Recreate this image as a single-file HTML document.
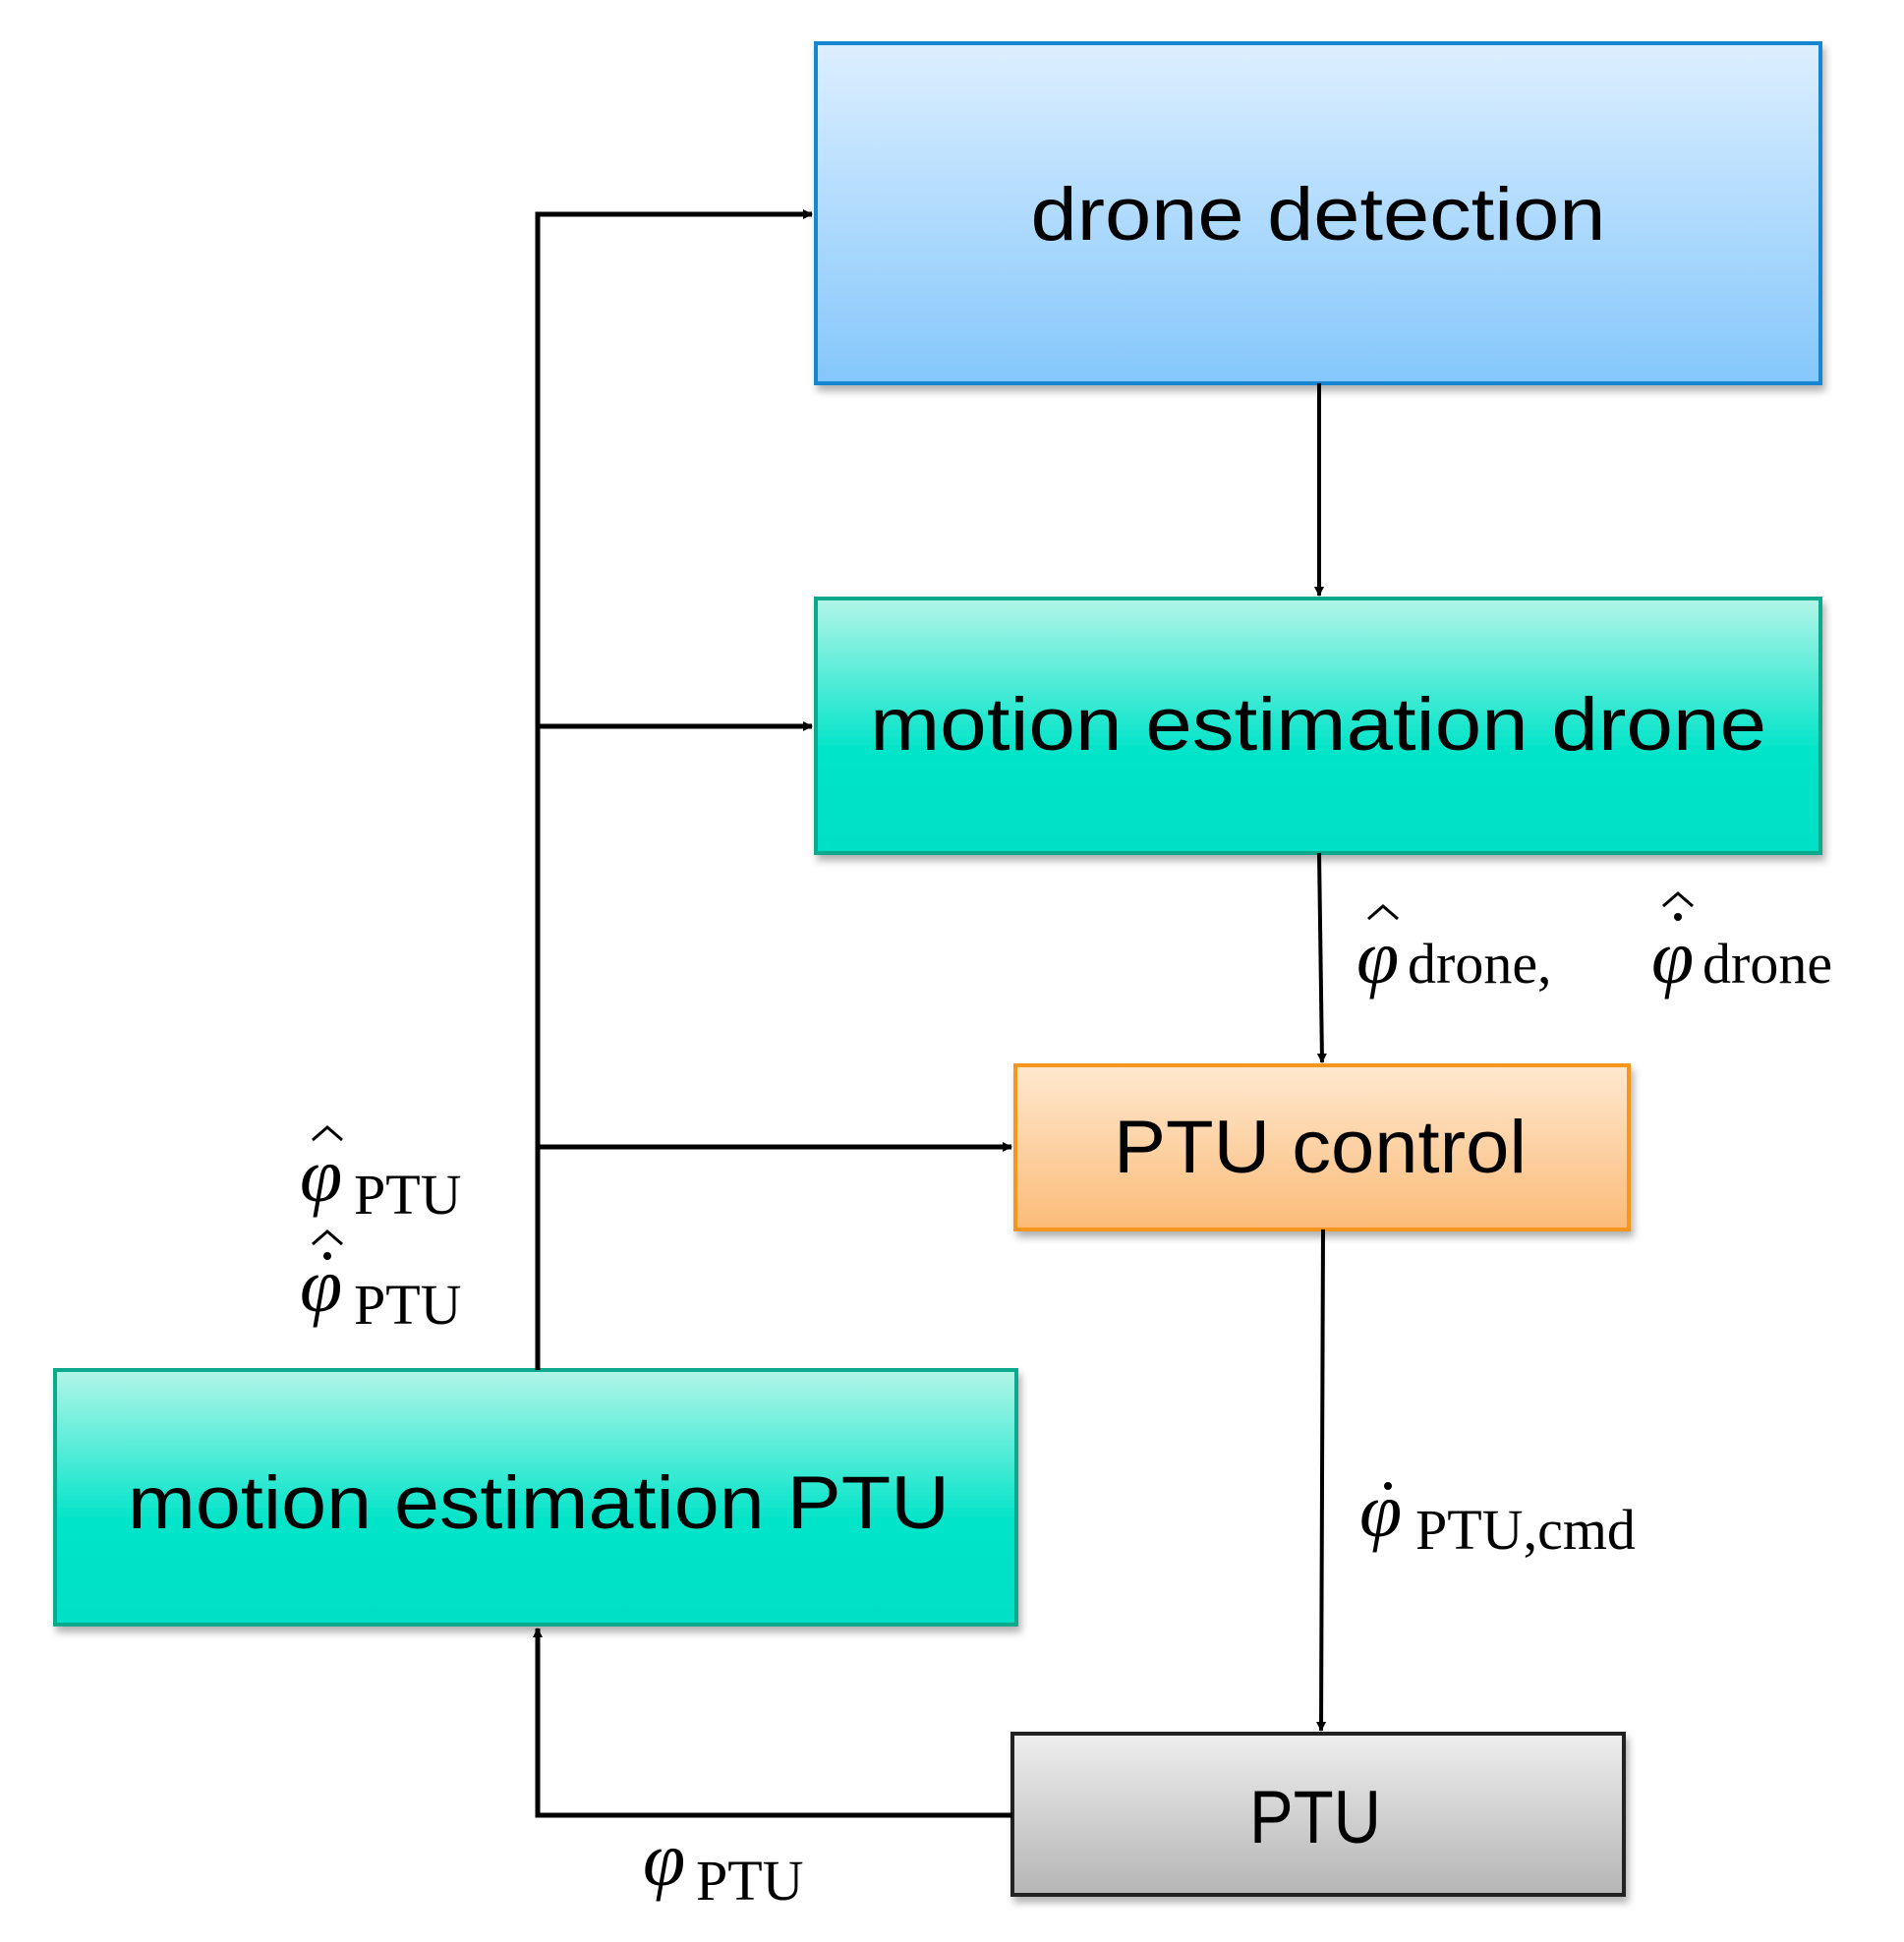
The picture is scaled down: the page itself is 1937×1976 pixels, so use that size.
<!DOCTYPE html>
<html><head><meta charset="utf-8"><style>
html,body{margin:0;padding:0;background:#fff;}
svg{display:block;}
.box{font-family:"Liberation Sans",sans-serif;font-size:76px;fill:#000;}
.phi{font-family:"Liberation Serif","DejaVu Serif",serif;font-style:italic;font-size:78px;}
.sub{font-family:"Liberation Serif","DejaVu Serif",serif;font-size:58px;}
</style></head><body>
<svg width="1937" height="1976" viewBox="0 0 1937 1976" xmlns="http://www.w3.org/2000/svg">
<defs>
<linearGradient id="gb" x1="0" y1="0" x2="0" y2="1"><stop offset="0" stop-color="#ddefff"/><stop offset="1" stop-color="#84c7fb"/></linearGradient>
<linearGradient id="gt" x1="0" y1="0" x2="0" y2="1"><stop offset="0" stop-color="#b2f5e8"/><stop offset="0.6" stop-color="#00e4c9"/><stop offset="1" stop-color="#00e0c6"/></linearGradient>
<linearGradient id="go" x1="0" y1="0" x2="0" y2="1"><stop offset="0" stop-color="#fee8cf"/><stop offset="1" stop-color="#fbbb78"/></linearGradient>
<linearGradient id="gg" x1="0" y1="0" x2="0" y2="1"><stop offset="0" stop-color="#eeeeee"/><stop offset="1" stop-color="#b5b5b5"/></linearGradient>
<filter id="sh" x="-5%" y="-5%" width="110%" height="115%"><feDropShadow dx="3" dy="6" stdDeviation="4" flood-color="#000" flood-opacity="0.3"/></filter>
<marker id="ar" markerWidth="10" markerHeight="10" refX="9" refY="5" orient="auto" markerUnits="userSpaceOnUse" viewBox="0 0 10 10"><path d="M0,0 L10,5 L0,10 z" fill="#000"/></marker>
</defs>

<!-- boxes -->
<rect x="830" y="44" width="1022" height="346" fill="url(#gb)" stroke="#1686d2" stroke-width="4" filter="url(#sh)"/>
<rect x="830" y="609" width="1022" height="259" fill="url(#gt)" stroke="#10a98c" stroke-width="4" filter="url(#sh)"/>
<rect x="1033" y="1084" width="624" height="167" fill="url(#go)" stroke="#f7961a" stroke-width="4" filter="url(#sh)"/>
<rect x="56" y="1394" width="978" height="259" fill="url(#gt)" stroke="#10a98c" stroke-width="4" filter="url(#sh)"/>
<rect x="1030" y="1764" width="622" height="164" fill="url(#gg)" stroke="#222" stroke-width="4" filter="url(#sh)"/>

<text class="box" x="1341" y="244" text-anchor="middle" textLength="585" lengthAdjust="spacingAndGlyphs">drone detection</text>
<text class="box" x="1341" y="763" text-anchor="middle" textLength="912" lengthAdjust="spacingAndGlyphs">motion estimation drone</text>
<text class="box" x="1343" y="1193" text-anchor="middle" textLength="420" lengthAdjust="spacingAndGlyphs">PTU control</text>
<text class="box" x="548" y="1555" text-anchor="middle" textLength="836" lengthAdjust="spacingAndGlyphs">motion estimation PTU</text>
<text class="box" x="1338" y="1875" text-anchor="middle" textLength="134" lengthAdjust="spacingAndGlyphs">PTU</text>

<!-- connectors -->
<g stroke="#000" fill="none">
<path d="M547,1394 L547,218 L826,218" stroke-width="5" marker-end="url(#ar)"/>
<path d="M547,739 L826,739" stroke-width="5" marker-end="url(#ar)"/>
<path d="M547,1167 L1029,1167" stroke-width="5" marker-end="url(#ar)"/>
<path d="M1342,390 L1342,606" stroke-width="4" marker-end="url(#ar)"/>
<path d="M1342,868 L1345,1081" stroke-width="4" marker-end="url(#ar)"/>
<path d="M1346,1251 L1344,1761" stroke-width="4" marker-end="url(#ar)"/>
<path d="M1030,1847 L547,1847 L547,1657" stroke-width="5" marker-end="url(#ar)"/>
</g>

<!-- math labels -->
<g fill="#000">
<!-- phi-hat drone, phi-hat-dot drone -->
<text class="phi" x="1380" y="1000">φ</text>
<path d="M1392,935 L1407,922 L1422,935" stroke="#000" stroke-width="3" fill="none"/>
<text class="sub" x="1432" y="1000">drone,</text>
<text class="phi" x="1680" y="1000">φ</text>
<path d="M1692,922 L1707,909 L1722,922" stroke="#000" stroke-width="3" fill="none"/>
<circle cx="1707" cy="933" r="4"/>
<text class="sub" x="1732" y="1000">drone</text>

<!-- phi-hat PTU -->
<text class="phi" x="305" y="1222">φ</text>
<path d="M318,1160 L333,1147 L348,1160" stroke="#000" stroke-width="3" fill="none"/>
<text class="sub" x="360" y="1235">PTU</text>
<!-- phi-hat-dot PTU -->
<text class="phi" x="305" y="1334">φ</text>
<path d="M318,1266 L333,1253 L348,1266" stroke="#000" stroke-width="3" fill="none"/>
<circle cx="333" cy="1278" r="4"/>
<text class="sub" x="360" y="1347">PTU</text>

<!-- phi-dot PTU,cmd -->
<text class="phi" x="1383" y="1563">φ</text>
<circle cx="1412" cy="1512" r="4"/>
<text class="sub" x="1440" y="1576">PTU,cmd</text>

<!-- phi PTU -->
<text class="phi" x="654" y="1918">φ</text>
<text class="sub" x="708" y="1933">PTU</text>
</g>
</svg>
</body></html>
